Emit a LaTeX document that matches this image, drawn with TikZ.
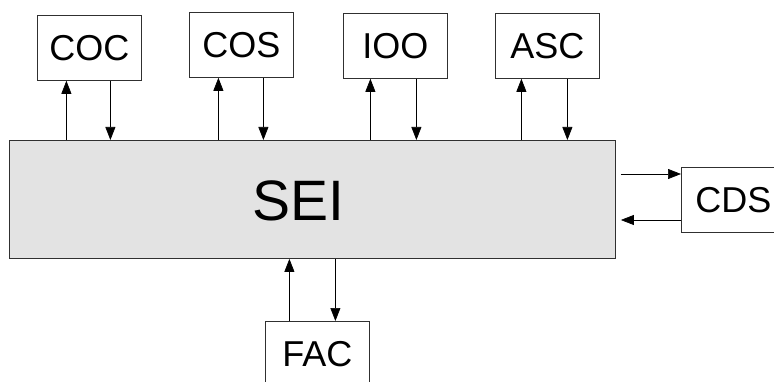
\documentclass[tikz,border=0pt]{standalone}
\usepackage{fontspec}
\setmainfont{Liberation Sans}
\usetikzlibrary{arrows.meta,calc}
\definecolor{seifill}{HTML}{E3E3E3}
\definecolor{edge}{HTML}{303030}
\tikzset{
  unit/.style={draw=edge, line width=0.8pt, fill=white, anchor=north west,
    minimum width=104pt, minimum height=65pt, inner sep=0pt,
    font=\fontsize{36}{40}\selectfont},
  core/.style={draw=edge, line width=0.9pt, fill=seifill, anchor=north west,
    minimum width=606pt, minimum height=118pt, inner sep=0pt},
  arr/.style={draw=black, line width=0.7pt, -{Triangle[length=13pt,width=10pt]}}
}
\begin{document}
\begin{tikzpicture}[x=1pt,y=-1pt]
  \useasboundingbox (0,0) rectangle (774,382);
  \clip (0,0) rectangle (774,382);

  % central block
  \node[core] (sei) at (9,140) {};
  \node[font=\fontsize{57}{62}\selectfont] (seilabel) at (298,201) {SEI};

  % surrounding units
  \node[unit] (coc) at (37,15) {COC};
  \node[unit] (cos) at (189,12) {COS};
  \node[unit] (ioo) at (343,13) {IOO};
  \node[unit] (asc) at (495,13) {ASC};
  \node[unit] (cds) at (681,167) {CDS};
  \node[unit] (fac) at (265,321) {FAC};

  % paired links to the top units
  \foreach \u/\a/\b in {coc/-23/21, cos/-23/22, ioo/-25/21, asc/-26/20}{
    \coordinate (\u-up) at ([xshift=\a pt]\u.south);
    \coordinate (\u-dn) at ([xshift=\b pt]\u.south);
    \draw[arr] (\u-up |- sei.north) -- (\u-up);
    \draw[arr] (\u-dn) -- (\u-dn |- sei.north);
  }

  % links to CDS
  \coordinate (cds-in) at ([yshift=-7pt]cds.north west);
  \coordinate (cds-out) at ([yshift=-53pt]cds.north west);
  \draw[arr] ([xshift=5pt]sei.east |- cds-in) -- (cds-in);
  \draw[arr] (cds-out) -- ([xshift=5pt]sei.east |- cds-out);

  % links to FAC
  \coordinate (fac-up) at ([xshift=-28pt]fac.north);
  \coordinate (fac-dn) at ([xshift=18pt]fac.north);
  \draw[arr] (fac-up) -- (fac-up |- sei.south);
  \draw[arr] (fac-dn |- sei.south) -- (fac-dn);
\end{tikzpicture}
\end{document}
